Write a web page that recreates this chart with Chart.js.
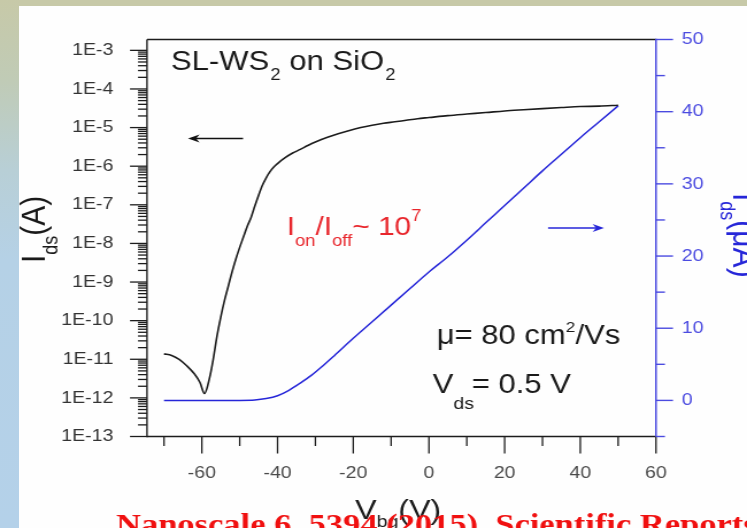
<!DOCTYPE html>
<html><head><meta charset="utf-8">
<script src="https://cdn.jsdelivr.net/npm/chart.js@4.4.0/dist/chart.umd.min.js"></script>
<style>
html,body{margin:0;padding:0;}
body{width:747px;height:528px;overflow:hidden;position:relative;background:#fefefe;}
#topband{position:absolute;left:0;top:0;width:747px;height:6px;background:#c7c9a8;}
#leftband{position:absolute;left:0;top:0;width:19px;height:528px;background:linear-gradient(to bottom,#c7c9a8 0px,#c0cbb6 80px,#b8cfd6 170px,#b5d1e6 260px,#b4d1e9 528px);}
#wrap{position:absolute;left:0;top:0;width:650px;height:528px;transform:scaleX(1.14923);transform-origin:0 0;}
</style></head><body>
<div id="topband"></div><div id="leftband"></div>
<div id="wrap"><canvas id="c" width="650" height="528"></canvas></div>
<script>
// ---- data ----
const vgBlack = [-70,-68,-66,-64,-62,-60.5,-59.3,-58,-57,-56,-55,-54,-53,-52,-51,-50,-49,-48,-47,-46,-45,-44,-43,-42,-41,-40,-38,-36,-34,-32,-30,-27,-24,-21,-18,-15,-12,-9,-6,-3,0,5,10,15,20,25,30,35,40,45,50];
const idsA = [1.38e-11,1.26e-11,1.0e-11,6.8e-12,4.2e-12,2.5e-12,1.3e-12,3.2e-12,1.0e-11,4.0e-11,1.26e-10,3.4e-10,7.9e-10,1.86e-9,4.0e-9,7.9e-9,1.48e-8,2.8e-8,4.7e-8,9.3e-8,1.78e-7,3.2e-7,5.0e-7,7.2e-7,9.5e-7,1.17e-6,1.66e-6,2.19e-6,2.72e-6,3.43e-6,4.22e-6,5.5e-6,6.9e-6,8.4e-6,1.0e-5,1.15e-5,1.29e-5,1.41e-5,1.55e-5,1.7e-5,1.82e-5,2.04e-5,2.24e-5,2.45e-5,2.7e-5,2.9e-5,3.1e-5,3.3e-5,3.5e-5,3.6e-5,3.8e-5];
const vgBlue = [-70,-60,-50,-46,-43,-40,-37,-34,-31,-28,-25,-20,-15,-10,-5,0,5,10,15,20,25,30,35,40,45,50];
const idsUA = [0,0,0,0.05,0.25,0.65,1.4,2.4,3.5,4.8,6.2,8.6,10.9,13.2,15.5,17.8,19.9,22.2,24.6,27.0,29.4,31.8,34.1,36.4,38.6,40.8];

const yTickValues = [1e-3,1e-4,1e-5,1e-6,1e-7,1e-8,1e-9,1e-10,1e-11,1e-12,1e-13];
const yTickLabels = ['1E-3','1E-4','1E-5','1E-6','1E-7','1E-8','1E-9','1E-10','1E-11','1E-12','1E-13'];
const xMajorTicks = [-60,-40,-20,0,20,40,60];
const xMinorTicks = [-70,-50,-30,-10,10,30,50];
const y2MajorTicks = [0,10,20,30,40,50];
const y2MinorTicks = [-5,5,15,25,35,45];
const minorMultipliers = [2,3,4,5,6,7,8,9];

// ---- styling ----
const FONT = '"Liberation Sans", Arial, sans-serif';
const SERIF = '"Liberation Serif", "Times New Roman", serif';
const BLACK = '#1c1c1c';
const BLUE = '#2626d8';
const BLUE_AX = '#4b4be0';
const RED = '#e8262c';

function drawRuns(ctx, x, y, parts, color){
  ctx.fillStyle = color; ctx.textAlign = 'left'; ctx.textBaseline = 'alphabetic';
  let cx = x;
  for (const p of parts){
    ctx.font = (p.w ? p.w + ' ' : '') + p.s + 'px ' + (p.ff || FONT);
    cx += (p.dx || 0);
    ctx.fillText(p.t, cx, y + (p.dy || 0));
    cx += ctx.measureText(p.t).width;
  }
}
function seg(ctx, x1, y1, x2, y2){ ctx.beginPath(); ctx.moveTo(x1,y1); ctx.lineTo(x2,y2); ctx.stroke(); }
function arrow(ctx, x1, x2, y, color){
  ctx.strokeStyle = color; ctx.fillStyle = color; ctx.lineWidth = 1.5;
  const dir = Math.sign(x2 - x1), L = 10, H = 4;
  seg(ctx, x1, y, x2 - dir*L*0.6, y);
  ctx.beginPath(); ctx.moveTo(x2, y); ctx.lineTo(x2 - dir*L, y - H); ctx.lineTo(x2 - dir*L*0.7, y); ctx.lineTo(x2 - dir*L, y + H); ctx.closePath(); ctx.fill();
}

const decor = {
  id: 'decor',
  afterDraw(chart){
    const ctx = chart.ctx, a = chart.chartArea;
    const sx = chart.scales.x, sy = chart.scales.y, sy2 = chart.scales.y2;
    ctx.save();
    // frame / axes
    ctx.lineWidth = 1.4; ctx.strokeStyle = BLACK;
    seg(ctx, a.left, a.top, a.right, a.top);
    seg(ctx, a.left, a.top, a.left, a.bottom + 0.7);
    seg(ctx, a.left, a.bottom, a.right, a.bottom);
    // left log ticks
    ctx.lineWidth = 1.3;
    yTickValues.forEach(v => { const p = sy.getPixelForValue(v); seg(ctx, a.left - 14.8, p, a.left, p); });
    for (let e = -13; e <= -3; e++){
      minorMultipliers.forEach(k => {
        const v = k * Math.pow(10, e);
        if (v < sy.max){ const p = sy.getPixelForValue(v); seg(ctx, a.left - 7.8, p, a.left, p); }
      });
    }
    // bottom ticks
    ctx.lineWidth = 1.3;
    xMajorTicks.forEach(v => { const p = sx.getPixelForValue(v); seg(ctx, p, a.bottom, p, a.bottom + 17); });
    xMinorTicks.forEach(v => { const p = sx.getPixelForValue(v); seg(ctx, p, a.bottom, p, a.bottom + 9.5); });
    // right axis
    ctx.strokeStyle = BLUE_AX; ctx.lineWidth = 1.5;
    seg(ctx, a.right, a.top - 0.7, a.right, a.bottom);
    ctx.lineWidth = 1.4;
    y2MajorTicks.forEach(v => { const p = sy2.getPixelForValue(v); seg(ctx, a.right, p, a.right + 14.8, p); });
    y2MinorTicks.forEach(v => { const p = sy2.getPixelForValue(v); seg(ctx, a.right, p, a.right + 7.8, p); });

    // annotations
    drawRuns(ctx, 148.8, 70, [
      {t:'SL-WS', s:27}, {t:'2', s:16, dy:10, dx:1}, {t:' on SiO', s:27}, {t:'2', s:16, dy:10, dx:1}
    ], '#1a1a1a');
    arrow(ctx, 211.5, 163.6, 138.5, '#111');
    drawRuns(ctx, 249.5, 235, [
      {t:'I', s:26}, {t:'on', s:16, dy:11}, {t:'/I', s:26}, {t:'off', s:16, dy:11}, {t:'~ 10', s:26}, {t:'7', s:16, dy:-14}
    ], RED);
    arrow(ctx, 476.9, 525.6, 228, BLUE);
    drawRuns(ctx, 380, 344, [
      {t:'\u03bc= 80 cm', s:27}, {t:'2', s:15, dy:-12}, {t:'/Vs', s:27}
    ], '#1a1a1a');
    drawRuns(ctx, 376.5, 393, [
      {t:'V', s:27}, {t:'ds', s:17, dy:16}, {t:'= 0.5 V', s:27, dx:-2}
    ], '#1a1a1a');

    // left axis title
    ctx.save(); ctx.translate(39, 263); ctx.rotate(-Math.PI/2);
    drawRuns(ctx, 0, 0, [{t:'I', s:30}, {t:'ds', s:18, dy:11}, {t:'(A)', s:30}], '#1a1a1a');
    ctx.restore();
    // right axis title
    ctx.save(); ctx.translate(638, 193); ctx.rotate(Math.PI/2);
    drawRuns(ctx, 0, 0, [{t:'I', s:30}, {t:'ds', s:18, dy:11}, {t:'(\u03bcA)', s:30}], BLUE);
    ctx.restore();
    // x axis title
    drawRuns(ctx, 309, 519, [{t:'V', s:28}, {t:'bg', s:17, dy:8}, {t:'(V)', s:28}], '#1a1a1a');
    // cropped citation line at bottom
    drawRuns(ctx, 101, 534, [{t:'Nanoscale 6, 5394 (2015), Scientific Reports', s:30, w:'bold', ff:SERIF}], '#f01010');
    ctx.restore();
  }
};

new Chart(document.getElementById('c'), {
  type: 'line',
  data: {
    datasets: [
      { data: vgBlack.map((v,i)=>({x:v, y:idsA[i]})), yAxisID:'y', borderColor: BLACK, borderWidth: 1.6, pointRadius: 0, cubicInterpolationMode: 'monotone', fill: false },
      { data: vgBlue.map((v,i)=>({x:v, y:idsUA[i]})), yAxisID:'y2', borderColor: BLUE, borderWidth: 1.5, pointRadius: 0, cubicInterpolationMode: 'monotone', fill: false }
    ]
  },
  options: {
    responsive: false, animation: false,
    layout: { padding: { left: 0, right: 0, top: 23, bottom: 0 } },
    plugins: { legend: { display: false }, tooltip: { enabled: false } },
    scales: {
      x: {
        type: 'linear', min: -74.5, max: 60,
        grid: { display: false, drawTicks: false }, border: { display: false },
        afterBuildTicks: s => { s.ticks = xMajorTicks.map(v => ({ value: v })); },
        afterFit: s => { s.height = 91.5; },
        ticks: { padding: 27, color: '#4a4a4a', font: { family: FONT, size: 17 }, callback: v => String(v) }
      },
      y: {
        type: 'logarithmic', position: 'left', min: 1e-13, max: 1.91e-3,
        grid: { display: false, drawTicks: false }, border: { display: false },
        afterBuildTicks: s => { s.ticks = yTickValues.map(v => ({ value: v })); },
        afterFit: s => { s.width = 127.9; },
        ticks: { padding: 29.3, color: '#333', font: { family: FONT, size: 17 }, callback: (v, i) => yTickLabels[i] }
      },
      y2: {
        type: 'linear', position: 'right', min: -5, max: 50,
        grid: { display: false, drawTicks: false }, border: { display: false },
        afterBuildTicks: s => { s.ticks = y2MajorTicks.map(v => ({ value: v })); },
        afterFit: s => { s.width = 79.2; },
        ticks: { padding: 22.4, color: BLUE_AX, font: { family: FONT, size: 17 }, callback: v => String(v) }
      }
    }
  },
  plugins: [decor]
});
</script></body></html>
